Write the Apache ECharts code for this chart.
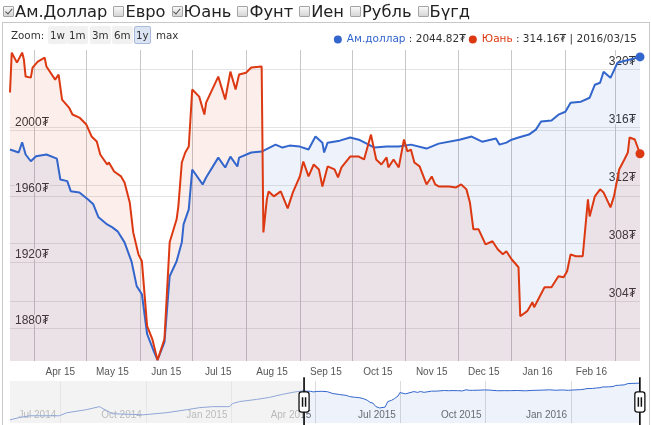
<!DOCTYPE html>
<html><head><meta charset="utf-8">
<script src="https://cdn.jsdelivr.net/npm/echarts@6/dist/echarts.min.js"></script>
<style>
html,body{margin:0;padding:0;background:#fff;overflow:hidden;}
#chart{position:absolute;left:0;top:0;width:651px;height:425px;}
#frame{position:absolute;left:2px;top:22px;width:646px;height:410px;border:1px solid #c8c8c8;pointer-events:none;}
#cur{position:absolute;left:3px;top:0;height:22px;font:16.3px 'DejaVu Sans',Verdana,sans-serif;color:#222;white-space:nowrap;display:flex;align-items:center;}
.cb{display:inline-block;width:9px;height:9px;border:1px solid #a4a4a4;border-radius:1px;background:linear-gradient(#f8f8f8,#d6d6d6);position:relative;margin-right:1px;}
.cb.on::after{content:'';position:absolute;left:2.5px;top:0px;width:2.5px;height:5.5px;border:solid #505050;border-width:0 1.6px 1.6px 0;transform:rotate(40deg);}
.item{display:inline-flex;align-items:center;margin-right:6px;}
#zoom{position:absolute;left:0;top:26px;height:18px;width:300px;font:10.3px 'DejaVu Sans',Verdana,sans-serif;color:#333;}
#zoom span{position:absolute;top:0;height:16px;line-height:16px;padding:0 1px;border:1px solid transparent;border-radius:2px;}
#zoom span.b{background:#f1f1f1;}
#zoom span.sel{background:#dbe4f3;border-color:#a9b9d9;}
</style></head>
<body>
<div id="chart"></div>
<div id="frame"></div>
<div id="cur"></div>
<div id="zoom"></div>
<script>
// ---------- data ----------
const currencyNames = ['Ам.Доллар','Евро','Юань','Фунт','Иен','Рубль','Бүгд'];
const currencyChecked = [true,false,true,false,false,false,false];
const zoomButtons = ['1w','1m','3m','6m','1y','max'];
const zoomSelected = '1y';
const seriesNames = ['Ам.доллар','Юань'];

const usdDates = ['2015-03-18','2015-03-23','2015-03-25','2015-03-27','2015-03-30','2015-04-02','2015-04-08','2015-04-14','2015-04-16','2015-04-20','2015-04-22','2015-04-27','2015-05-02','2015-05-05','2015-05-08','2015-05-13','2015-05-16','2015-05-19','2015-05-23','2015-05-27','2015-05-30','2015-06-02','2015-06-05','2015-06-09','2015-06-11','2015-06-15','2015-06-18','2015-06-22','2015-06-25','2015-06-26','2015-06-29','2015-07-01','2015-07-07','2015-07-09','2015-07-16','2015-07-20','2015-07-23','2015-07-27','2015-07-28','2015-08-04','2015-08-10','2015-08-18','2015-08-22','2015-08-26','2015-09-01','2015-09-06','2015-09-10','2015-09-14','2015-09-15','2015-09-17','2015-09-24','2015-09-30','2015-10-05','2015-10-14','2015-10-21','2015-10-28','2015-11-04','2015-11-13','2015-11-20','2015-12-02','2015-12-09','2015-12-15','2015-12-23','2015-12-25','2015-12-29','2016-01-01','2016-01-05','2016-01-11','2016-01-15','2016-01-18','2016-01-24','2016-01-28','2016-02-01','2016-02-04','2016-02-10','2016-02-15','2016-02-18','2016-02-21','2016-02-23','2016-02-27','2016-03-02','2016-03-15'];
const usdValues = [1988.5,1986.7,1992.9,1985.5,1981.4,1984.4,1985.5,1983.0,1970.3,1969.3,1963.2,1962.4,1958.2,1955.2,1947.3,1943.0,1941.2,1938.8,1932.1,1920.6,1905.5,1900.6,1876.4,1865.5,1860.6,1871.5,1911.5,1920.6,1932.1,1943.0,1952.1,1976.4,1967.3,1971.5,1983.6,1977.6,1984.2,1978.2,1983.6,1986.7,1987.3,1991.5,1989.7,1990.9,1990.3,1988.5,1996.4,1992.7,1986.7,1992.7,1993.9,1995.8,1994.5,1989.7,1990.3,1990.3,1991.5,1989.1,1992.1,1994.5,1996.4,1993.3,1995.2,1991.5,1992.7,1994.5,1995.8,1997.6,2000.6,2005.5,2006.1,2009.7,2011.5,2017.0,2017.6,2020.0,2027.9,2029.1,2035.8,2032.1,2041.2,2044.82];

const cnyDates = ['2015-03-18','2015-03-19','2015-03-22','2015-03-25','2015-03-26','2015-03-27','2015-03-30','2015-03-31','2015-04-03','2015-04-07','2015-04-08','2015-04-13','2015-04-15','2015-04-17','2015-04-21','2015-04-23','2015-04-27','2015-05-01','2015-05-04','2015-05-07','2015-05-09','2015-05-13','2015-05-14','2015-05-17','2015-05-21','2015-05-23','2015-05-26','2015-05-28','2015-05-31','2015-06-02','2015-06-05','2015-06-08','2015-06-11','2015-06-15','2015-06-18','2015-06-22','2015-06-23','2015-06-25','2015-06-27','2015-06-29','2015-07-01','2015-07-02','2015-07-05','2015-07-08','2015-07-09','2015-07-16','2015-07-20','2015-07-23','2015-07-26','2015-07-28','2015-08-01','2015-08-04','2015-08-10','2015-08-11','2015-08-13','2015-08-14','2015-08-17','2015-08-21','2015-08-25','2015-08-28','2015-09-01','2015-09-03','2015-09-06','2015-09-09','2015-09-12','2015-09-14','2015-09-17','2015-09-21','2015-09-23','2015-09-25','2015-09-30','2015-10-05','2015-10-08','2015-10-12','2015-10-15','2015-10-18','2015-10-21','2015-10-22','2015-10-25','2015-10-28','2015-10-31','2015-11-02','2015-11-04','2015-11-06','2015-11-09','2015-11-13','2015-11-16','2015-11-18','2015-11-20','2015-11-26','2015-11-30','2015-12-03','2015-12-06','2015-12-08','2015-12-10','2015-12-13','2015-12-17','2015-12-21','2015-12-24','2015-12-27','2015-12-29','2016-01-01','2016-01-05','2016-01-06','2016-01-10','2016-01-13','2016-01-14','2016-01-17','2016-01-20','2016-01-24','2016-01-28','2016-01-31','2016-02-02','2016-02-04','2016-02-07','2016-02-11','2016-02-14','2016-02-15','2016-02-18','2016-02-21','2016-02-23','2016-02-27','2016-02-29','2016-03-03','2016-03-06','2016-03-08','2016-03-09','2016-03-12','2016-03-15'];
const cnyValues = [318.37,321.12,320.43,321.12,320.64,319.47,319.40,320.09,320.50,320.77,320.16,319.26,319.61,317.89,317.34,316.86,316.65,316.17,315.35,315.00,314.11,313.42,313.56,312.94,312.60,312.19,310.81,308.75,307.24,306.76,302.30,301.41,299.96,301.41,308.07,309.65,310.54,313.56,314.25,314.66,318.58,318.71,318.09,316.86,317.68,319.47,317.89,319.81,318.58,319.61,319.74,320.09,320.16,308.75,311.02,311.57,311.23,311.57,310.40,311.50,312.60,313.63,312.60,313.42,313.08,311.91,313.29,313.08,312.53,313.22,313.97,313.97,313.77,315.48,313.77,313.42,313.91,313.22,313.77,313.22,315.14,314.32,314.45,313.56,313.29,312.05,312.60,312.05,311.91,311.91,311.84,312.05,311.71,310.81,308.96,308.96,307.93,308.14,307.59,307.24,307.45,306.90,306.35,302.98,303.33,303.95,303.60,304.29,304.98,304.98,305.73,305.66,306.08,307.24,307.11,307.11,311.02,309.85,311.23,311.71,311.50,310.47,311.23,313.08,313.77,314.25,315.28,315.14,314.16];

// USD history shown in the range selector (before the selected window)
const usdHistDates = ['2014-05-08','2014-05-18','2014-05-29','2014-06-30','2014-07-08','2014-07-29','2014-08-12','2014-08-20','2014-08-26','2014-09-28','2014-10-23','2014-11-14','2014-11-28','2014-12-12','2014-12-30','2015-01-02','2015-01-10','2015-01-28','2015-02-11','2015-02-25','2015-03-08'];
const usdHistValues = [1779.5,1796.5,1809,1809,1831,1853,1875,1846,1824,1816,1831,1853,1868,1875,1875,1897,1912,1927,1942,1964,1978.5];

const leftTicks = [1880,1920,1960,2000];
const rightTicks = [304,308,312,316,320];
const gridMonths = ['2015-04','2015-05','2015-06','2015-07','2015-08','2015-09','2015-10','2015-11','2015-12','2016-01','2016-02','2016-03'];
const miniQuarters = ['2014-07','2014-10','2015-01','2015-04','2015-07','2015-10','2016-01'];
const monthAbbr = ['Jan','Feb','Mar','Apr','May','Jun','Jul','Aug','Sep','Oct','Nov','Dec'];

// ---------- header (html) ----------
const cur = document.getElementById('cur');
currencyNames.forEach((n,i)=>{
  const it = document.createElement('span'); it.className='item';
  const cb = document.createElement('span'); cb.className = 'cb' + (currencyChecked[i] ? ' on' : '');
  const t = document.createElement('span'); t.textContent = n;
  it.appendChild(cb); it.appendChild(t); cur.appendChild(it);
});
const zoomDiv = document.getElementById('zoom');
const zl = document.createElement('span'); zl.textContent = 'Zoom:'; zl.style.left = '9px'; zoomDiv.appendChild(zl);
const zoomX = [48,67,90,112,134,154];
zoomButtons.forEach((b,i)=>{
  const s = document.createElement('span'); s.textContent = b;
  s.className = b === zoomSelected ? 'sel' : (b === 'max' ? '' : 'b');
  s.style.left = zoomX[i] + 'px'; zoomDiv.appendChild(s);
});

// ---------- chart ----------
const ts = s => { const p = s.split('-').map(Number); return new Date(p[0], p[1]-1, p[2] || 1).getTime(); };
const lastOf = a => a[a.length-1];
const withEndDot = (dates, vals) => dates.map((d,i)=> i === dates.length-1 ?
  {value:[ts(d), vals[i]], symbol:'circle', symbolSize:9} : [ts(d), vals[i]]);

const usdData = withEndDot(usdDates, usdValues);
const cnyData = withEndDot(cnyDates, cnyValues);
const histData = usdHistDates.map((d,i)=>[ts(d), usdHistValues[i]]).concat([[ts(usdDates[0]), usdValues[0]]]);
const winData = usdDates.map((d,i)=>[ts(d), usdValues[i]]);

const fullStart = ts(usdHistDates[0]);
const winStart = ts(usdDates[0]);
const winEnd = ts(lastOf(usdDates));

const gridTicks = gridMonths.map(m => ts(m + '-01'));
const labelTicks = gridMonths.map(m => ts(m + '-16')).filter(t => t <= winEnd);
const quarterTicks = miniQuarters.map(m => ts(m + '-01'));

const fmtShort = v => { const d = new Date(v); return monthAbbr[d.getMonth()] + ' ' + String(d.getFullYear()).slice(2); };
const fmtLong = v => { const d = new Date(v); return monthAbbr[d.getMonth()] + ' ' + d.getFullYear(); };

const BLUE = '#3366cc', RED = '#dc3912';
const lastUsd = lastOf(usdValues).toFixed(2) + '₮';
const lastCny = lastOf(cnyValues).toFixed(2) + '₮';
const lastDate = lastOf(usdDates).replace(/-/g,'/');

const legendFont = 'DejaVu Sans, Verdana, sans-serif';
const yLabelBase = {
  inside: true, verticalAlign: 'bottom', fontSize: 12, lineHeight: 15, color: '#333',
  fontFamily: 'Arial, Liberation Sans, sans-serif', textBorderColor: '#fff', textBorderWidth: 2.5,
  formatter: v => v + '₮'
};

const chart = echarts.init(document.getElementById('chart'));
chart.setOption({
  animation: false,
  textStyle: { fontFamily: 'Arial, Liberation Sans, sans-serif' },
  legend: {
    data: [{name: seriesNames[0], icon: 'circle'}, {name: seriesNames[1], icon: 'circle'}],
    right: 9, top: 29, itemWidth: 8, itemHeight: 8, itemGap: 3, selectedMode: false,
    formatter: name => name === seriesNames[0]
      ? '{b|' + name + '}{v| : ' + lastUsd + '}'
      : '{r|' + name + '}{v| : ' + lastCny + ' | ' + lastDate + '}',
    textStyle: {
      fontSize: 10.5, fontFamily: legendFont, color: '#333',
      rich: {
        b: {color: BLUE, fontSize: 10.5, fontFamily: legendFont},
        r: {color: RED, fontSize: 10.5, fontFamily: legendFont},
        v: {color: '#333', fontSize: 10.5, fontFamily: legendFont}
      }
    }
  },
  grid: [
    {left: 10, right: 11, top: 50, bottom: 64},
    {left: 10, right: 11, top: 381, height: 42}
  ],
  xAxis: [
    {
      type: 'value', gridIndex: 0, min: fullStart, max: winEnd,
      axisLine: {show: false}, axisTick: {show: false, customValues: gridTicks},
      axisLabel: {customValues: labelTicks, formatter: fmtShort, fontSize: 10, color: '#555', margin: 6, hideOverlap: false},
      splitLine: {show: true, lineStyle: {color: '#c9c6c9', width: 1}}
    },
    {
      type: 'value', gridIndex: 1, min: fullStart, max: winEnd,
      axisLine: {show: false}, axisTick: {show: false, customValues: quarterTicks},
      axisLabel: {customValues: quarterTicks, formatter: fmtLong, inside: true, align: 'right', padding: [0,4,0,0],
        margin: 3, fontSize: 10, color: '#6a6a6a', hideOverlap: false},
      splitLine: {show: true, lineStyle: {color: '#dcdcdc', width: 1}}
    }
  ],
  yAxis: [
    {
      type: 'value', gridIndex: 0, position: 'left', min: 1860, max: 2049,
      axisLine: {show: false}, axisTick: {show: false, customValues: leftTicks},
      axisLabel: Object.assign({}, yLabelBase, {customValues: leftTicks, margin: 5}),
      splitLine: {show: true, lineStyle: {color: '#e4e4e4'}}
    },
    {
      type: 'value', gridIndex: 0, position: 'right', min: 299.9, max: 321.3,
      axisLine: {show: false}, axisTick: {show: false, customValues: rightTicks},
      axisLabel: Object.assign({}, yLabelBase, {customValues: rightTicks, margin: 4}),
      splitLine: {show: true, lineStyle: {color: '#e4e4e4'}}
    },
    {type: 'value', gridIndex: 1, min: 1757, max: 2060, show: false}
  ],
  dataZoom: [{
    type: 'slider', xAxisIndex: 0, filterMode: 'none',
    startValue: winStart, endValue: winEnd,
    left: 10, right: 11, top: 381, height: 42,
    showDetail: false, showDataShadow: false, brushSelect: false, moveHandleSize: 0,
    backgroundColor: 'rgba(0,0,0,0)', borderColor: 'rgba(0,0,0,0)', fillerColor: 'rgba(0,0,0,0)',
    handleIcon: 'path://M4.8 0H5.2V14H4.8Z M2.5 14H7.5Q10 14 10 16.5V31.5Q10 34 7.5 34H2.5Q0 34 0 31.5V16.5Q0 14 2.5 14Z M4.8 34H5.2V48H4.8Z M3.4 20H3.6V28H3.4Z M6.4 20H6.6V28H6.4Z',
    handleSize: '115%',
    handleStyle: {color: '#fff', borderColor: '#111', borderWidth: 1.3},
    emphasis: {handleStyle: {color: '#fff', borderColor: '#111', borderWidth: 1.3}}
  }],
  series: [
    {
      name: seriesNames[0], type: 'line', xAxisIndex: 0, yAxisIndex: 0, data: usdData,
      symbol: 'none', showSymbol: true, itemStyle: {color: BLUE}, clip: true,
      lineStyle: {color: BLUE, width: 2},
      areaStyle: {color: 'rgba(51,102,204,0.12)', origin: 'start'}
    },
    {
      name: seriesNames[1], type: 'line', xAxisIndex: 0, yAxisIndex: 1, data: cnyData,
      symbol: 'none', showSymbol: true, itemStyle: {color: RED}, clip: true,
      lineStyle: {color: RED, width: 2},
      areaStyle: {color: 'rgba(220,57,18,0.12)', origin: 'start'}
    },
    {
      name: 'history', type: 'line', xAxisIndex: 1, yAxisIndex: 2, data: histData,
      symbol: 'none', lineStyle: {color: '#8fa6d6', width: 1}, silent: true,
      markArea: {silent: true, itemStyle: {color: 'rgba(236,236,236,0.62)'},
        data: [[{xAxis: fullStart}, {xAxis: winStart}]]}
    },
    {
      name: 'window', type: 'line', xAxisIndex: 1, yAxisIndex: 2, data: winData,
      symbol: 'none', lineStyle: {color: BLUE, width: 1}, silent: true,
      areaStyle: {color: 'rgba(51,102,204,0.12)', origin: 'start'}
    }
  ]
});
</script>
</body></html>
